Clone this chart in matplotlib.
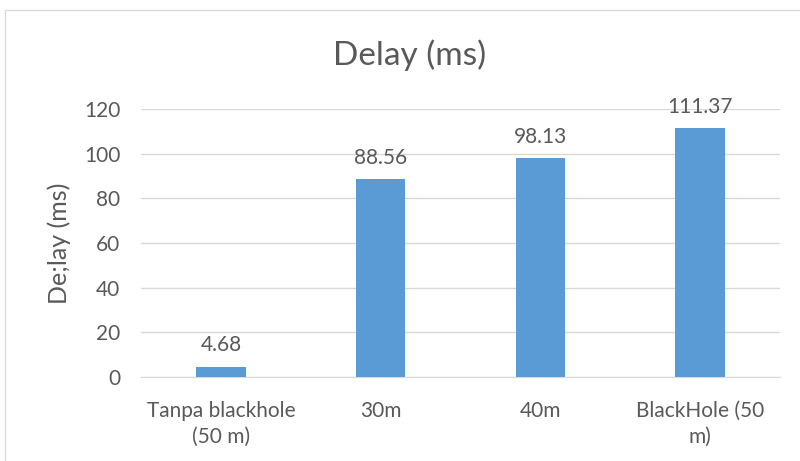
import matplotlib.pyplot as plt
from matplotlib.patches import Rectangle

categories = ["Tanpa blackhole\n(50 m)", "30m", "40m", "BlackHole (50\nm)"]
delay_ms = [4.68, 88.56, 98.13, 111.37]
value_labels = ["4.68", "88.56", "98.13", "111.37"]

plt.rcParams['font.family'] = ['Lato', 'DejaVu Sans']
text_color = "#595959"
bar_color = "#5B9BD5"

fig = plt.figure(figsize=(8, 4.61), dpi=100)
W, H = 800, 461
# axes spans pixel x 141..780, y 109..377
ax = fig.add_axes([141 / W, 1 - 377 / H, (780 - 141) / W, (377 - 109) / H])

x = range(len(categories))
bars = ax.bar(x, delay_ms, width=0.31, color=bar_color, zorder=3)
for b, lab in zip(bars, value_labels):
    ax.text(b.get_x() + b.get_width() / 2, b.get_height() + 5, lab,
            ha="center", va="bottom", fontsize=15, color=text_color)

ax.set_xlim(-0.5, 3.5)
ax.set_ylim(0, 120)
ax.set_yticks(range(0, 121, 20))
ax.yaxis.grid(True, color="#D9D9D9", linewidth=1, zorder=0)
for s in ["top", "right", "left"]:
    ax.spines[s].set_visible(False)
ax.spines["bottom"].set_color("#D9D9D9")
ax.tick_params(axis="both", length=0, labelsize=15, labelcolor=text_color)
ax.tick_params(axis="y", pad=15)
ax.tick_params(axis="x", pad=17)
ax.set_xticks(list(x))
ax.set_xticklabels(categories, linespacing=1.4)
ax.set_ylabel("De;lay (ms)", fontsize=18, color=text_color, labelpad=9)

fig.text(410 / W, 1 - 55 / H, "Delay (ms)", ha="center", va="center",
         fontsize=24, color=text_color)

# chart frame
fig.patches.append(Rectangle((5 / W, -0.1), 1.2, 1 - 10 / H + 0.1,
                             transform=fig.transFigure, fill=False,
                             edgecolor="#D9D9D9", linewidth=1))

fig.savefig("out.png", dpi=100)
